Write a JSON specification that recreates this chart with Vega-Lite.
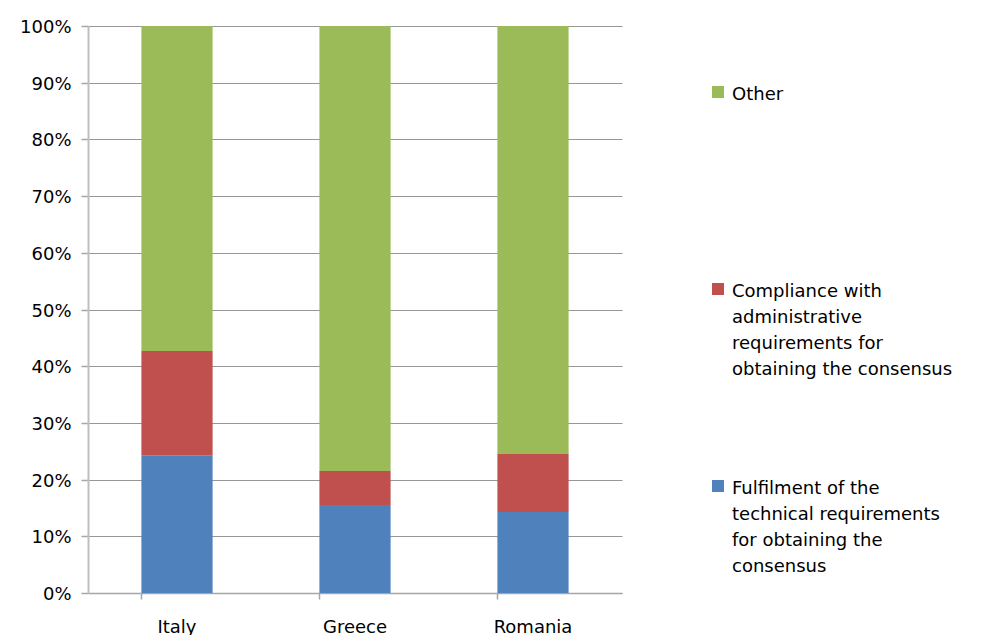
{
  "$schema": "https://vega.github.io/schema/vega-lite/v6.json",
  "width": 534,
  "height": 567,
  "autosize": {"type": "none"},
  "padding": {"left": 88, "top": 26, "right": 359, "bottom": 42},
  "background": "white",
  "config": {
    "view": {"stroke": null},
    "font": "DejaVu Sans",
    "style": {"guide-label": {"lineHeight": 26}}
  },
  "data": {
    "values": [
      {"country": "Italy", "category": "Fulfilment of the technical requirements for obtaining the consensus", "value": 0.243},
      {"country": "Italy", "category": "Compliance with administrative requirements for obtaining the consensus", "value": 0.184},
      {"country": "Italy", "category": "Other", "value": 0.573},
      {"country": "Greece", "category": "Fulfilment of the technical requirements for obtaining the consensus", "value": 0.155},
      {"country": "Greece", "category": "Compliance with administrative requirements for obtaining the consensus", "value": 0.060},
      {"country": "Greece", "category": "Other", "value": 0.785},
      {"country": "Romania", "category": "Fulfilment of the technical requirements for obtaining the consensus", "value": 0.143},
      {"country": "Romania", "category": "Compliance with administrative requirements for obtaining the consensus", "value": 0.102},
      {"country": "Romania", "category": "Other", "value": 0.755}
    ]
  },
  "transform": [
    {"calculate": "indexof(['Fulfilment of the technical requirements for obtaining the consensus', 'Compliance with administrative requirements for obtaining the consensus', 'Other'], datum.category)", "as": "stackOrder"}
  ],
  "mark": {"type": "bar"},
  "encoding": {
    "x": {
      "field": "country",
      "type": "nominal",
      "sort": ["Italy", "Greece", "Romania"],
      "scale": {"paddingInner": 0.6, "paddingOuter": 0.3},
      "axis": {
        "title": null,
        "labelAngle": 0,
        "labelFontSize": 18,
        "labelColor": "#000000",
        "domainColor": "#A6A6A6",
        "domainWidth": 1.5,
        "tickColor": "#A6A6A6",
        "tickWidth": 1.5,
        "bandPosition": 0,
        "tickSize": 6,
        "labelPadding": 19
      }
    },
    "y": {
      "field": "value",
      "type": "quantitative",
      "stack": "zero",
      "scale": {"domain": [0, 1], "nice": false},
      "axis": {
        "title": null,
        "format": ".0%",
        "values": [0, 0.1, 0.2, 0.3, 0.4, 0.5, 0.6, 0.7, 0.8, 0.9, 1],
        "labelFontSize": 18,
        "labelColor": "#000000",
        "labelPadding": 10,
        "labelOffset": 1.5,
        "tickSize": 7,
        "tickColor": "#A6A6A6",
        "tickWidth": 1.5,
        "domainColor": "#BFBFBF",
        "domainWidth": 2,
        "gridColor": "#979797",
        "gridWidth": 1.2
      }
    },
    "order": {"field": "stackOrder", "type": "quantitative"},
    "color": {
      "field": "category",
      "type": "nominal",
      "scale": {
        "domain": [
          "Fulfilment of the technical requirements for obtaining the consensus",
          "Compliance with administrative requirements for obtaining the consensus",
          "Other"
        ],
        "range": ["#4F81BD", "#C0504D", "#9BBB59"]
      },
      "legend": {
        "title": null,
        "orient": "none",
        "legendX": 621,
        "legendY": 57,
        "padding": 0,
        "values": [
          "Other",
          "Compliance with administrative requirements for obtaining the consensus",
          "Fulfilment of the technical requirements for obtaining the consensus"
        ],
        "symbolType": "square",
        "symbolSize": 144,
        "symbolStrokeWidth": 0,
        "labelFontSize": 18,
        "labelColor": "#000000",
        "labelOffset": 5,
        "labelLimit": 400,
        "labelBaseline": "top",
        "rowPadding": 98,
        "labelExpr": "datum.label == 'Other' ? ['Other', '', '', ''] : (indexof(datum.label, 'Compliance') == 0 ? ['Compliance with', 'administrative', 'requirements for', 'obtaining the consensus'] : ['Fulfilment of the', 'technical requirements', 'for obtaining the', 'consensus'])",
        "encode": {"labels": {"update": {"dy": {"value": -6}}}}
      }
    }
  }
}
